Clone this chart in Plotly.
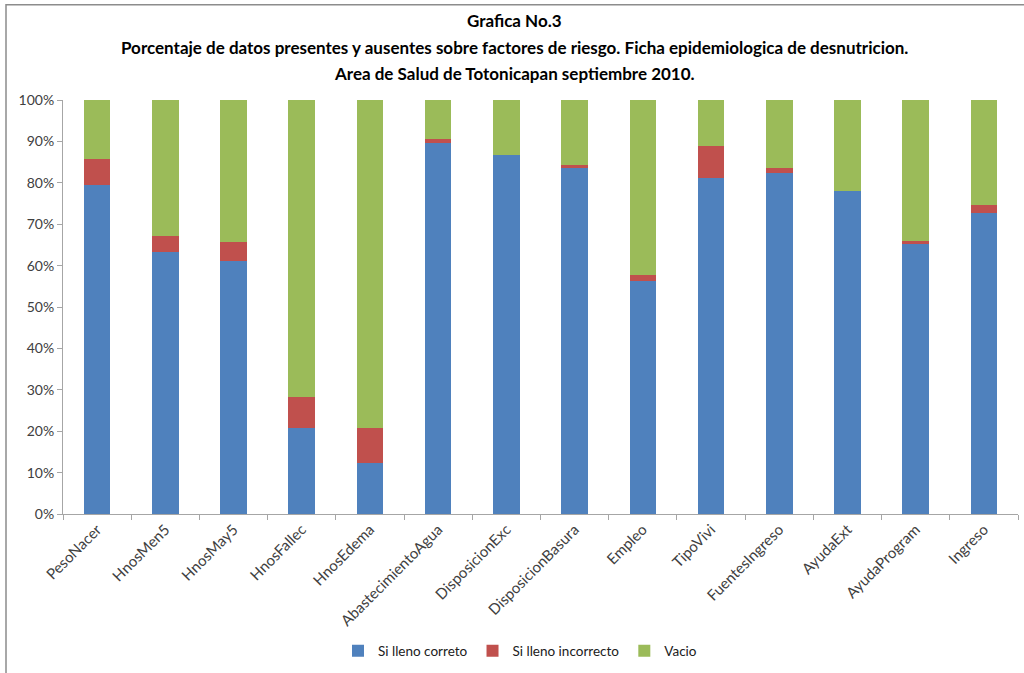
import plotly.graph_objects as go

categories = ["PesoNacer", "HnosMen5", "HnosMay5", "HnosFallec", "HnosEdema",
              "AbastecimientoAgua", "DisposicionExc", "DisposicionBasura", "Empleo",
              "TipoVivi", "FuentesIngreso", "AyudaExt", "AyudaProgram", "Ingreso"]
correcto = [79.4, 63.4, 61.1, 20.8, 12.4, 89.6, 86.8, 83.6, 56.4, 81.1, 82.4, 78.0, 65.2, 72.6]
incorrecto = [6.4, 3.8, 4.5, 7.5, 8.4, 1.0, 0.0, 0.6, 1.4, 7.7, 1.2, 0.0, 0.8, 2.0]
vacio = [14.2, 32.8, 34.4, 71.7, 79.2, 9.4, 13.2, 15.8, 42.2, 11.2, 16.4, 22.0, 34.0, 25.4]

series = [("Si lleno correto", correcto, "#4F81BD"),
          ("Si lleno incorrecto", incorrecto, "#C0504D"),
          ("Vacio", vacio, "#9BBB59")]

W, H = 1024, 673
L, R, T, B = 63, 1018, 100, 517  # plot area in pixels
pw, ph = R - L, B - T

def px(x):
    return (x - L) / pw

def py(y):
    return (B - y) / ph

font = "Lato, 'Open Sans', sans-serif"

fig = go.Figure()
for name, vals, color in series:
    fig.add_trace(go.Bar(x=categories, y=vals, name=name,
                         marker=dict(color=color, line=dict(width=0))))

titles = ["Grafica No.3",
          "Porcentaje de datos presentes y ausentes sobre factores de riesgo. Ficha epidemiologica de desnutricion.",
          "Area de Salud de Totonicapan septiembre 2010."]
title_y = [20, 47, 73]
annotations = [dict(text="<b>%s</b>" % t, x=px(514), y=py(yy), xref="paper", yref="paper",
                    xanchor="center", yanchor="middle", showarrow=False,
                    font=dict(family=font, size=17, color="#000000"))
               for t, yy in zip(titles, title_y)]

fig.update_layout(
    width=W, height=H,
    margin=dict(l=L, r=W - R, t=T, b=H - B, pad=0),
    barmode="stack", barnorm="percent", bargap=0.61,
    paper_bgcolor="white", plot_bgcolor="white",
    font=dict(family=font, size=14, color="#404040"),
    showlegend=True,
    legend=dict(orientation="h", x=px(520), y=py(655), xanchor="center", yanchor="middle",
                font=dict(family=font, size=13.5, color="#202020"), traceorder="normal",
                itemwidth=30),
    annotations=annotations,
    shapes=[dict(type="rect", xref="paper", yref="paper",
                 x0=px(6), x1=px(1040), y0=py(690), y1=py(4),
                 line=dict(color="#8C8C8C", width=1.5), fillcolor="rgba(0,0,0,0)", layer="below")],
)

fig.update_xaxes(type="category", tickangle=-45, showgrid=False, showline=True,
                 linecolor="#A6A6A6", linewidth=1, ticks="outside", ticklen=5,
                 tickcolor="#A6A6A6", tickson="boundaries",
                 tickfont=dict(family=font, size=15, color="#404040"))
fig.update_yaxes(range=[0, 100], dtick=10, ticksuffix="%", showgrid=False, showline=True,
                 linecolor="#A6A6A6", linewidth=1, ticks="outside", ticklen=5,
                 tickcolor="#A6A6A6", zeroline=False,
                 tickfont=dict(family=font, size=14, color="#404040"))

fig.write_html("out.html")
